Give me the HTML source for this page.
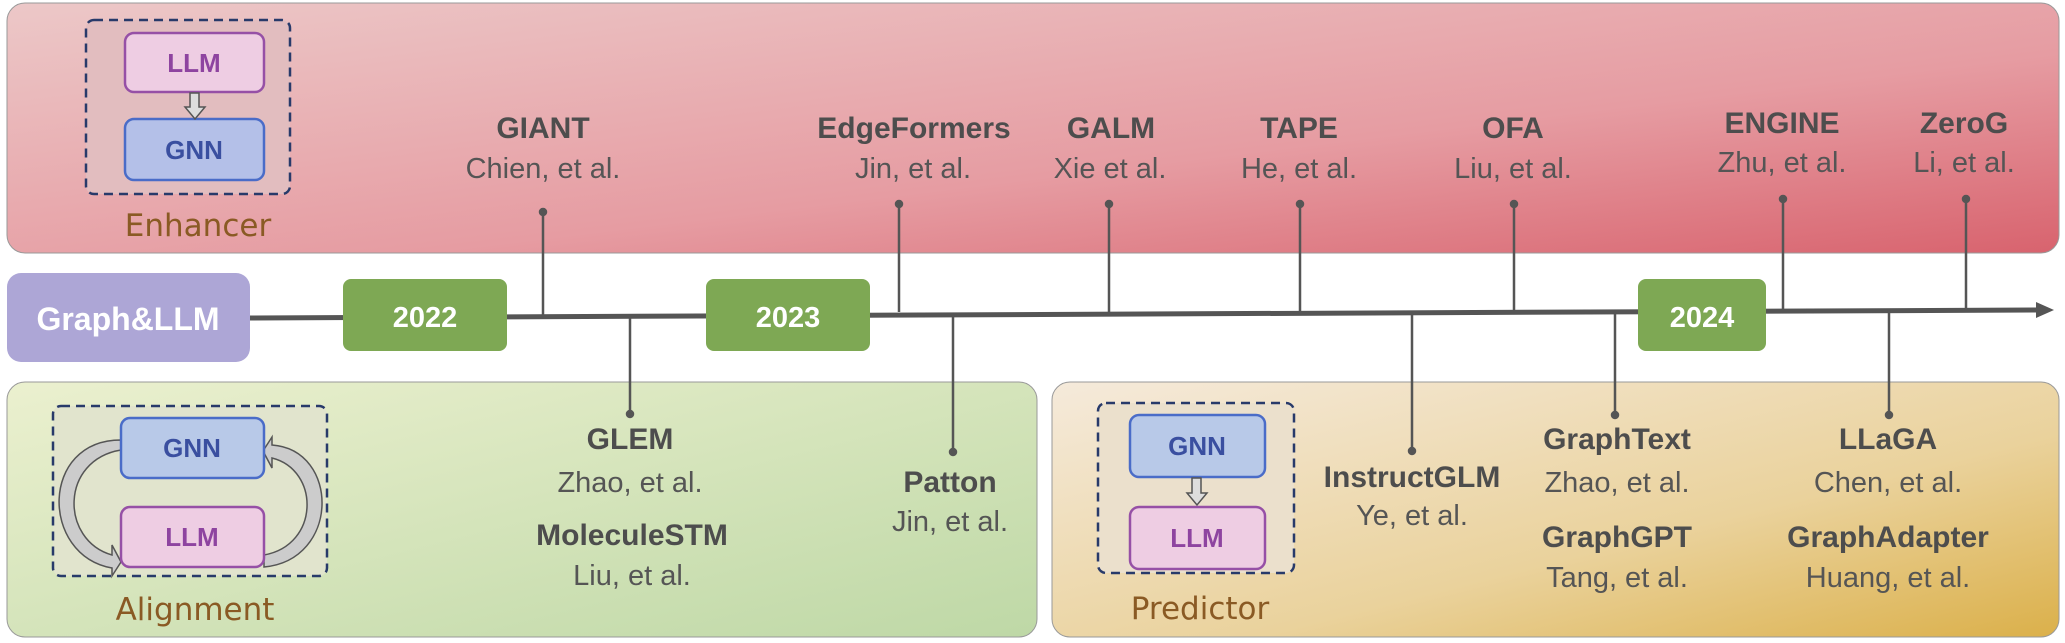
<!DOCTYPE html>
<html><head><meta charset="utf-8"><style>
html,body{margin:0;padding:0;background:#fff}
svg{display:block}
.t{font-family:"Liberation Sans Narrow","Liberation Sans",sans-serif;font-weight:bold;font-size:30px;fill:#4d4d4d;text-anchor:middle}
.a{font-family:"Liberation Sans Narrow","Liberation Sans",sans-serif;font-size:29px;fill:#555;text-anchor:middle}
.bx{font-family:"Liberation Sans",sans-serif;font-weight:bold;font-size:26px;text-anchor:middle}
.lb{font-family:"Comic Sans MS","DejaVu Sans",sans-serif;font-size:31px;fill:#8a5a24;text-anchor:middle}
</style></head><body>
<svg width="2065" height="643" viewBox="0 0 2065 643" xmlns="http://www.w3.org/2000/svg">
<defs>
<linearGradient id="gr" x1="0" y1="0" x2="1" y2="1"><stop offset="0" stop-color="#ecc8c8"/><stop offset="0.6" stop-color="#e69ca2"/><stop offset="1" stop-color="#d8636e"/></linearGradient>
<linearGradient id="gg" x1="0" y1="0" x2="1" y2="1"><stop offset="0" stop-color="#ebf0cf"/><stop offset="1" stop-color="#bed8a6"/></linearGradient>
<linearGradient id="gy" x1="0" y1="0" x2="1" y2="1"><stop offset="0" stop-color="#f5eadb"/><stop offset="0.6" stop-color="#ead29c"/><stop offset="1" stop-color="#dbb04a"/></linearGradient>
</defs>
<rect x="7" y="3" width="2052" height="250" rx="18" fill="url(#gr)" stroke="#999" stroke-width="1"/>
<rect x="7" y="382" width="1030" height="255" rx="18" fill="url(#gg)" stroke="#999" stroke-width="1"/>
<rect x="1052" y="382" width="1007" height="255" rx="18" fill="url(#gy)" stroke="#999" stroke-width="1"/>

<rect x="86" y="20" width="204" height="174" rx="8" fill="#e2bdbf" stroke="#283a6a" stroke-width="2.5" stroke-dasharray="9,6"/>
<rect x="125" y="33" width="139" height="59" rx="9" fill="#eecde3" stroke="#9650a6" stroke-width="2.5"/>
<text class="bx" x="194" y="72" fill="#8e44a0">LLM</text>
<rect x="125" y="119" width="139" height="61" rx="9" fill="#b4c0e8" stroke="#4a6cc8" stroke-width="2.5"/>
<text class="bx" x="194" y="159" fill="#3a4fa0">GNN</text>
<path d="M190 93 h9 v14 h6 l-10 12 l-10 -12 h5 z" fill="#ddd" stroke="#555" stroke-width="1.5"/>
<text class="lb" x="198" y="236">Enhancer</text>

<rect x="53" y="406" width="274" height="170" rx="8" fill="#e1e4cd" stroke="#283a6a" stroke-width="2.5" stroke-dasharray="9,6"/>
<path d="M121 450 C60 460 60 540 112 555 l0 -10 l9 17 l-9 14 l0 -8 C40 555 40 440 121 440 z" fill="#ccc" stroke="#555" stroke-width="1.5"/>
<path d="M264 555 C320 545 320 470 272 458 l0 10 l-9 -17 l9 -14 l0 8 C340 450 340 560 264 567 z" fill="#ccc" stroke="#555" stroke-width="1.5"/>
<rect x="121" y="418" width="143" height="60" rx="9" fill="#b8c9e8" stroke="#4a6cc8" stroke-width="2.5"/>
<text class="bx" x="192" y="457" fill="#3a4fa0">GNN</text>
<rect x="121" y="507" width="143" height="60" rx="9" fill="#eecde3" stroke="#9650a6" stroke-width="2.5"/>
<text class="bx" x="192" y="546" fill="#8e44a0">LLM</text>
<text class="lb" x="195" y="620">Alignment</text>

<rect x="1098" y="403" width="196" height="170" rx="8" fill="#ebe0cc" stroke="#283a6a" stroke-width="2.5" stroke-dasharray="9,6"/>
<rect x="1130" y="415" width="135" height="62" rx="9" fill="#b8c9e8" stroke="#4a6cc8" stroke-width="2.5"/>
<text class="bx" x="1197" y="455" fill="#3a4fa0">GNN</text>
<path d="M1192 478 h9 v15 h6 l-10 12 l-10 -12 h5 z" fill="#ddd" stroke="#555" stroke-width="1.5"/>
<rect x="1130" y="507" width="135" height="62" rx="9" fill="#eecde3" stroke="#9650a6" stroke-width="2.5"/>
<text class="bx" x="1197" y="547" fill="#8e44a0">LLM</text>
<text class="lb" x="1200" y="619">Predictor</text>

<path d="M250 318 L2040 310" stroke="#555" stroke-width="5"/>
<path d="M2036 302 L2054 310 L2036 318 z" fill="#555"/>
<rect x="7" y="273" width="243" height="89" rx="14" fill="#ada6d6"/>
<text x="128" y="330" font-family="Liberation Sans, sans-serif" font-weight="bold" font-size="32" fill="#fff" text-anchor="middle">Graph&amp;LLM</text>
<rect x="343" y="279" width="164" height="72" rx="8" fill="#7ea854"/>
<text x="425" y="327" font-family="Liberation Sans, sans-serif" font-weight="bold" font-size="29" fill="#fff" text-anchor="middle">2022</text>
<rect x="706" y="279" width="164" height="72" rx="8" fill="#7ea854"/>
<text x="788" y="327" font-family="Liberation Sans, sans-serif" font-weight="bold" font-size="29" fill="#fff" text-anchor="middle">2023</text>
<rect x="1638" y="279" width="128" height="72" rx="8" fill="#7ea854"/>
<text x="1702" y="327" font-family="Liberation Sans, sans-serif" font-weight="bold" font-size="29" fill="#fff" text-anchor="middle">2024</text>

<g stroke="#555" stroke-width="2.5" fill="#555">
<line x1="543" y1="212" x2="543" y2="316"/><circle cx="543" cy="212" r="3"/>
<line x1="899" y1="204" x2="899" y2="312"/><circle cx="899" cy="204" r="3"/>
<line x1="1109" y1="204" x2="1109" y2="312"/><circle cx="1109" cy="204" r="3"/>
<line x1="1300" y1="204" x2="1300" y2="311"/><circle cx="1300" cy="204" r="3"/>
<line x1="1514" y1="204" x2="1514" y2="310"/><circle cx="1514" cy="204" r="3"/>
<line x1="1783" y1="199" x2="1783" y2="310"/><circle cx="1783" cy="199" r="3"/>
<line x1="1966" y1="199" x2="1966" y2="310"/><circle cx="1966" cy="199" r="3"/>
<line x1="630" y1="317" x2="630" y2="414"/><circle cx="630" cy="414" r="3"/>
<line x1="953" y1="315" x2="953" y2="452"/><circle cx="953" cy="452" r="3"/>
<line x1="1412" y1="313" x2="1412" y2="451"/><circle cx="1412" cy="451" r="3"/>
<line x1="1615" y1="312" x2="1615" y2="415"/><circle cx="1615" cy="415" r="3"/>
<line x1="1889" y1="310" x2="1889" y2="415"/><circle cx="1889" cy="415" r="3"/>
</g>

<text class="t" x="543" y="138">GIANT</text><text class="a" x="543" y="178">Chien, et al.</text>
<text class="t" x="914" y="138">EdgeFormers</text><text class="a" x="913" y="178">Jin, et al.</text>
<text class="t" x="1111" y="138">GALM</text><text class="a" x="1110" y="178">Xie et al.</text>
<text class="t" x="1299" y="138">TAPE</text><text class="a" x="1299" y="178">He, et al.</text>
<text class="t" x="1513" y="138">OFA</text><text class="a" x="1513" y="178">Liu, et al.</text>
<text class="t" x="1782" y="133">ENGINE</text><text class="a" x="1782" y="172">Zhu, et al.</text>
<text class="t" x="1964" y="133">ZeroG</text><text class="a" x="1964" y="172">Li, et al.</text>

<text class="t" x="630" y="449">GLEM</text><text class="a" x="630" y="492">Zhao, et al.</text>
<text class="t" x="632" y="545">MoleculeSTM</text><text class="a" x="632" y="585">Liu, et al.</text>
<text class="t" x="950" y="492">Patton</text><text class="a" x="950" y="531">Jin, et al.</text>
<text class="t" x="1412" y="487">InstructGLM</text><text class="a" x="1412" y="525">Ye, et al.</text>
<text class="t" x="1617" y="449">GraphText</text><text class="a" x="1617" y="492">Zhao, et al.</text>
<text class="t" x="1617" y="547">GraphGPT</text><text class="a" x="1617" y="587">Tang, et al.</text>
<text class="t" x="1888" y="449">LLaGA</text><text class="a" x="1888" y="492">Chen, et al.</text>
<text class="t" x="1888" y="547">GraphAdapter</text><text class="a" x="1888" y="587">Huang, et al.</text>
</svg>
</body></html>
